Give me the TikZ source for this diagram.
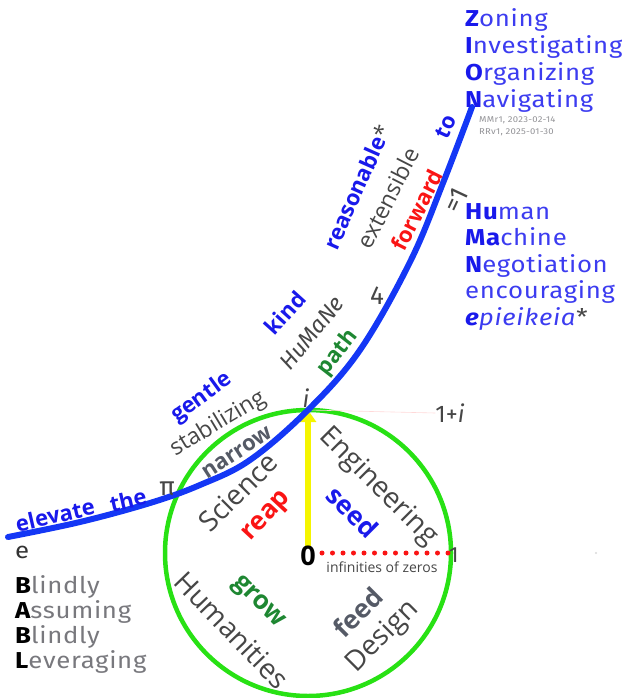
\documentclass[tikz,border=0pt]{standalone}
\usepackage{fontspec}
\setmainfont{Open Sans}
\newfontfamily\fira{Fira Sans}[FakeStretch=1.12, LetterSpace=3]
\newfontfamily\firan{Fira Sans}
\usetikzlibrary{arrows.meta}
\definecolor{cblue}{RGB}{20,55,245}
\definecolor{lblue}{RGB}{25,25,235}
\definecolor{listblue}{RGB}{60,60,240}
\definecolor{cgreen}{RGB}{40,225,20}
\definecolor{dgreen}{RGB}{30,135,50}
\definecolor{cred}{RGB}{250,20,20}
\definecolor{cgray}{RGB}{70,70,70}
\definecolor{bgray}{RGB}{85,90,102}
\definecolor{lgray}{RGB}{120,120,125}
\definecolor{cyellow}{RGB}{245,245,0}
\tikzset{
  fsz/.style={font=\fontsize{#1}{#1}\selectfont},
  lab/.style={inner sep=0pt, fsz=23},
  boldlab/.style={inner sep=0pt, font=\fontsize{22}{22}\selectfont\bfseries},
  big/.style={inner sep=0pt, font=\fontsize{28}{28}\selectfont, text=cgray},
  bigbold/.style={inner sep=0pt, font=\fontsize{26}{26}\selectfont\bfseries},
  numlab/.style={inner sep=0pt, text=cgray, font=\firan\fontsize{26}{26}\selectfont},
  listline/.style={anchor=base west, inner sep=0pt, font=\fira\fontsize{23}{23}\selectfont},
  verlab/.style={anchor=base west, inner sep=0pt, text=lgray!80, font=\fira\fontsize{8.5}{8.5}\selectfont},
}
\begin{document}
\begin{tikzpicture}[x=1pt,y=-1pt]
\useasboundingbox (0,0) rectangle (621,698);
% circle
\coordinate (o) at (308,553);
\coordinate (itop) at (308,410);
\draw[cgreen, line width=4.5pt] (o) circle[radius=143];
% faint line to 1+i
\node[numlab, font=\firan\fontsize{24}{24}\selectfont] (oneplusi) at (450,413) {1+\textit{i}};
\draw[red!15, line width=0.6pt] (itop) -- (oneplusi.west);
% red dots
\coordinate (d0) at (322,553);
\coordinate (d1) at (448,553);
\draw[cred, line width=5pt, line cap=round, dash pattern=on 0pt off 10.5pt] (d0) -- (d1);
% yellow arrow
\coordinate (ybot) at (308,546);
\draw[cyellow, line width=6pt, -{Triangle[length=12pt,width=16pt]}] (ybot) -- (itop);
% blue curve
\draw[cblue, line width=6pt, line cap=round] plot[smooth, tension=0.6] coordinates {(8,537) (80,522) (150,503) (200,485) (250,460) (308,410) (360,350) (410,262) (443,183) (472,107)};
% zero and one
\node[inner sep=0pt, font=\fontsize{27}{27}\selectfont\bfseries] (zero) at (308,556) {0};
\node[numlab, font=\firan\fontsize{22}{22}\selectfont] (one) at (454,555) {1};
\node[inner sep=0pt, text=cgray, font=\fontsize{14}{14}\selectfont] (inf) at (382,567) {infinities of zeros};
% circle words
\node[big, rotate=45] (sci) at (238,492) {Science};
\node[big, rotate=-45] (eng) at (378,487) {Engineering};
\node[big, rotate=-46] (hum) at (232,630) {Humanities};
\node[big, rotate=45] (des) at (383,637) {Design};
\node[bigbold, text=cred, rotate=47] (reap) at (268,517) {reap};
\node[bigbold, text=lblue, rotate=-45] (seed) at (353,512) {seed};
\node[bigbold, text=dgreen, rotate=-45] (grow) at (258,603) {grow};
\node[bigbold, text=bgray, rotate=45] (feed) at (358,612) {feed};
% curve labels
\node[boldlab, text=lblue, rotate=13] (elev) at (55,515) {elevate};
\node[boldlab, text=lblue, rotate=13] (the) at (128,500) {the};
\node[numlab] (pi) at (167,489) {π};
\node[boldlab, text=bgray, rotate=33] (narrow) at (237,453) {narrow};
\node[lab, text=cgray, rotate=31] (stab) at (218,424) {stabilizing};
\node[boldlab, text=lblue, rotate=36] (gentle) at (202,398) {gentle};
\node[boldlab, text=lblue, rotate=48] (kind) at (285,313) {kind};
\node[inner sep=0pt, text=cgray, font=\firan\itshape\fontsize{23}{23}\selectfont, rotate=51] (humane) at (312,333) {HuMaNe};
\node[boldlab, text=dgreen, rotate=52] (path) at (338,353) {path};
\node[numlab, font=\firan\itshape\fontsize{24}{24}\selectfont] (ilab) at (306,398) {i};
\node[numlab] (four) at (377,296) {4};
\node[boldlab, text=lblue, rotate=66] (reas) at (357,187) {reasonable\textcolor{cgray}{\mdseries *}};
\node[lab, text=cgray, rotate=63] (ext) at (388,198) {extensible};
\node[boldlab, text=cred, rotate=63] (fwd) at (417,210) {forward};
\node[boldlab, text=lblue, rotate=65] (to) at (446,127) {to};
\node[numlab, rotate=65] (eq) at (456,200) {=1};
% ZION list
\node[listline, text=listblue] (z1) at (465,27) {\textbf{\color{lblue}Z}oning};
\node[listline, text=listblue] (z2) at (465,54) {\textbf{\color{lblue}I}nvestigating};
\node[listline, text=listblue] (z3) at (465,81) {\textbf{\color{lblue}O}rganizing};
\node[listline, text=listblue] (z4) at (465,108) {\textbf{\color{lblue}N}avigating};
\node[verlab] (v1) at (479,122) {MMr1, 2023-02-14};
\node[verlab] (v2) at (479,134) {RRv1, 2025-01-30};
% HMN list
\node[listline, text=listblue] (h1) at (465,219) {\textbf{\color{lblue}Hu}man};
\node[listline, text=listblue] (h2) at (465,245) {\textbf{\color{lblue}Ma}chine};
\node[listline, text=listblue] (h3) at (465,272) {\textbf{\color{lblue}N}egotiation};
\node[listline, text=listblue] (h4) at (465,298) {encouraging};
\node[listline, text=listblue] (h5) at (465,325) {\textbf{\color{lblue}\itshape e}\textit{pieikeia}\textcolor{cgray}{*}};
% BABL list
\node[listline, text=black!80] (e) at (15,558) {e};
\node[listline, text=lgray] (b1) at (15,593) {\textbf{\color{black}B}lindly};
\node[listline, text=lgray] (b2) at (15,618) {\textbf{\color{black}A}ssuming};
\node[listline, text=lgray] (b3) at (15,643) {\textbf{\color{black}B}lindly};
\node[listline, text=lgray] (b4) at (15,668) {\textbf{\color{black}L}everaging};
% faint mark
\fill[black!15] (596,553) circle[radius=1.2];
\end{tikzpicture}
\end{document}
